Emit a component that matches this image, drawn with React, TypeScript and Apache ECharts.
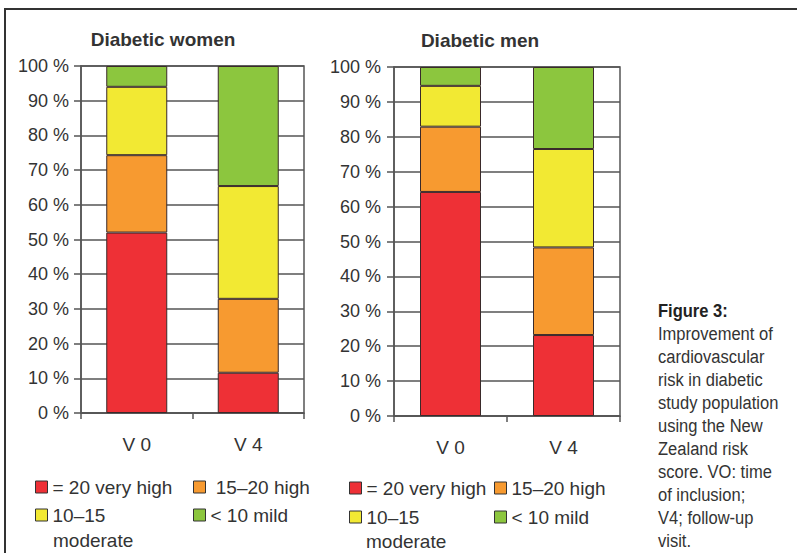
import React, { useEffect, useRef } from "react";
import * as echarts from "echarts";

const categories = ["V 0", "V 4"];
const seriesNames = ["= 20 very high", "15–20 high", "10–15 moderate", "< 10 mild"];
const seriesColors = ["#EE3036", "#F79A30", "#F2E933", "#8CC63E"];

const womenVeryHigh = [52, 11.6];
const womenHigh = [22.3, 21.3];
const womenModerate = [19.7, 32.5];
const womenMild = [6, 34.6];

const menVeryHigh = [64.2, 23.2];
const menHigh = [18.7, 25.1];
const menModerate = [11.7, 28.2];
const menMild = [5.4, 23.5];

const titles = ["Diabetic women", "Diabetic men"];
const captionTitle = "Figure 3:";
const captionLines = [
  "Improvement of",
  "cardiovascular",
  "risk in diabetic",
  "study population",
  "using the New",
  "Zealand risk",
  "score. VO: time",
  "of inclusion;",
  "V4; follow-up",
  "visit.",
];

const FONT = "Liberation Sans, Arial, Helvetica, sans-serif";
const GRID_COLOR = "#555";
const TEXT_COLOR = "#333";

export default function App() {
  const ref = useRef<HTMLDivElement>(null);

  useEffect(() => {
    document.body.style.margin = "0";
    if (!ref.current) return;
    const chart = echarts.init(ref.current, undefined, { renderer: "svg" });

    const womenData = [womenVeryHigh, womenHigh, womenModerate, womenMild];
    const menData = [menVeryHigh, menHigh, menModerate, menMild];

    const mkX = (gridIndex: number) => ({
      type: "category",
      gridIndex,
      data: categories,
      axisLine: { lineStyle: { color: GRID_COLOR, width: 1.5 } },
      axisTick: { show: true, length: 6, lineStyle: { color: GRID_COLOR, width: 1.5 } },
      axisLabel: { color: TEXT_COLOR, fontSize: 19, margin: 22, fontFamily: FONT },
    });
    const mkY = (gridIndex: number, margin: number) => ({
      type: "value",
      gridIndex,
      min: 0,
      max: 100,
      interval: 10,
      axisLine: { show: true, lineStyle: { color: GRID_COLOR, width: 1.5 } },
      axisTick: { show: true, length: 7, lineStyle: { color: GRID_COLOR, width: 1.5 } },
      axisLabel: { color: TEXT_COLOR, fontSize: 18, margin, formatter: "{value} %", fontFamily: FONT },
      splitLine: { show: true, lineStyle: { color: GRID_COLOR, width: 1.5 } },
    });

    const series: any[] = [];
    [womenData, menData].forEach((group, gi) => {
      group.forEach((vals, si) => {
        series.push({
          name: seriesNames[si],
          type: "bar",
          xAxisIndex: gi,
          yAxisIndex: gi,
          stack: gi === 0 ? "women" : "men",
          barWidth: 61,
          data: vals,
          itemStyle: { color: seriesColors[si], borderColor: "#3a2a2a", borderWidth: 1 },
        });
      });
    });

    const legendBase = {
      padding: 0,
      itemWidth: 12,
      itemHeight: 12,
      icon: "rect",
      selectedMode: false,
      orient: "horizontal",
      itemStyle: { borderColor: "#333", borderWidth: 1 },
      textStyle: { fontSize: 19, color: TEXT_COLOR, lineHeight: 20, fontFamily: FONT },
    };
    const legendPos = [
      { name: seriesNames[0], left: 35, top: 477 },
      { name: seriesNames[1], left: 193, top: 477, pre: " " },
      { name: seriesNames[2], left: 35, top: 505 },
      { name: seriesNames[3], left: 193, top: 505 },
      { name: seriesNames[0], left: 349, top: 478 },
      { name: seriesNames[1], left: 494, top: 478 },
      { name: seriesNames[2], left: 349, top: 507 },
      { name: seriesNames[3], left: 494, top: 507 },
    ];
    const legend = legendPos.map((p) => ({
      ...legendBase,
      data: [p.name],
      left: p.left,
      top: p.top,
      formatter: (n: string) => (p.pre || "") + (n === seriesNames[2] ? "10–15" : n),
    }));

    const graphic: any[] = [
      {
        type: "polyline",
        shape: { points: [[5, 560], [5, 9], [800, 9]] },
        style: { stroke: "#333", lineWidth: 2, fill: "none" },
        silent: true,
      },
      {
        type: "text",
        x: 163,
        y: 39,
        style: { text: titles[0], fill: TEXT_COLOR, fontFamily: FONT, fontWeight: "bold", fontSize: 19, align: "center", verticalAlign: "middle" },
      },
      {
        type: "text",
        x: 480,
        y: 40,
        style: { text: titles[1], fill: TEXT_COLOR, fontFamily: FONT, fontWeight: "bold", fontSize: 19, align: "center", verticalAlign: "middle" },
      },
      {
        type: "text",
        x: 53,
        y: 540,
        style: { text: "moderate", fill: TEXT_COLOR, fontFamily: FONT, fontSize: 19, align: "left", verticalAlign: "middle" },
      },
      {
        type: "text",
        x: 366,
        y: 541,
        style: { text: "moderate", fill: TEXT_COLOR, fontFamily: FONT, fontSize: 19, align: "left", verticalAlign: "middle" },
      },
      {
        type: "text",
        x: 658,
        y: 311,
        scaleX: 0.87,
        style: { text: captionTitle, fill: "#222", fontFamily: FONT, fontWeight: "bold", fontSize: 19, align: "left", verticalAlign: "middle" },
      },
      ...captionLines.map((line, i) => ({
        type: "text",
        x: 658,
        y: 334 + i * 22.9,
        scaleX: 0.87,
        style: { text: line, fill: "#333", fontFamily: FONT, fontSize: 19, align: "left", verticalAlign: "middle" },
      })),
    ];

    chart.setOption({
      animation: false,
      backgroundColor: "#fff",
      textStyle: { fontFamily: FONT },
      grid: [
        { left: 81, top: 66, width: 223, height: 347, show: true, borderColor: GRID_COLOR, borderWidth: 1.5, backgroundColor: "transparent" },
        { left: 394, top: 67, width: 226, height: 349, show: true, borderColor: GRID_COLOR, borderWidth: 1.5, backgroundColor: "transparent" },
      ],
      xAxis: [mkX(0), mkX(1)],
      yAxis: [mkY(0, 12), mkY(1, 13)],
      legend,
      series,
      graphic,
    });

    return () => chart.dispose();
  }, []);

  return <div ref={ref} style={{ width: 797, height: 553 }} />;
}
